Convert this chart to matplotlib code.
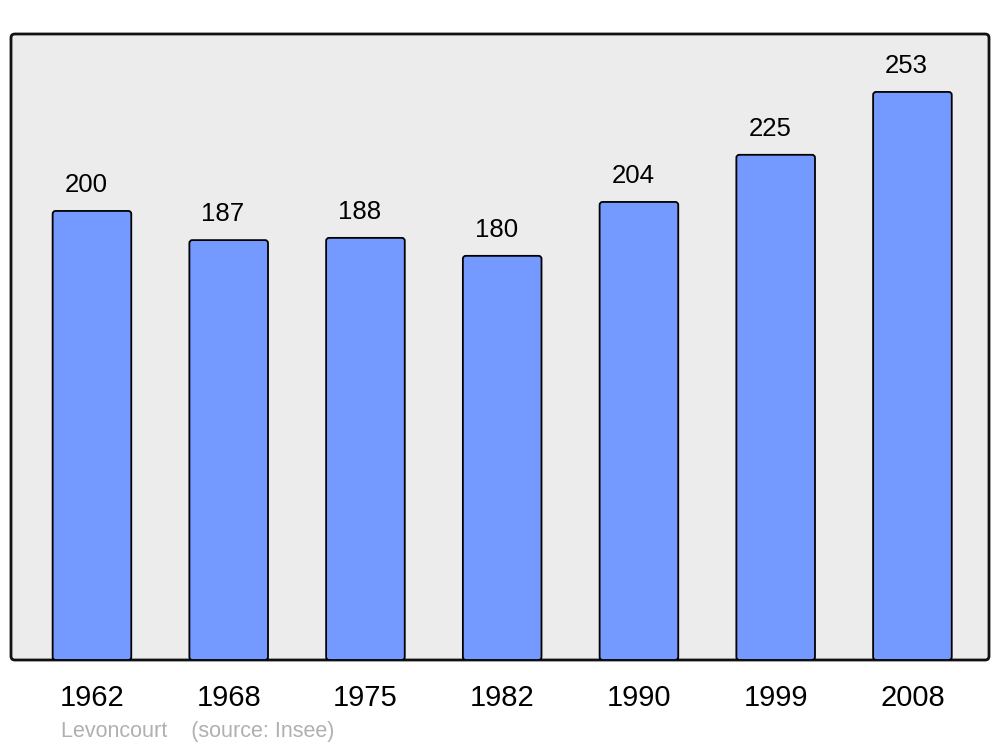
import matplotlib
matplotlib.use("Agg")
import matplotlib.pyplot as plt
from matplotlib.patches import FancyBboxPatch

years = ["1962", "1968", "1975", "1982", "1990", "1999", "2008"]
population = [200, 187, 188, 180, 204, 225, 253]
town = "Levoncourt"
source = "(source: Insee)"

plt.rcParams['font.family'] = ['Liberation Sans', 'DejaVu Sans']

W, H = 1000, 747
fig = plt.figure(figsize=(W / 100, H / 100), dpi=100)
axw, axh = (989 - 11), (660 - 34)
ax = fig.add_axes([11 / W, 1 - 660 / H, axw / W, axh / H])
ax.patch.set_visible(False)
for s in ax.spines.values():
    s.set_visible(False)

# rounded frame
frame = FancyBboxPatch((0, 0), 1, 1, boxstyle="round,pad=0,rounding_size=0.004",
                       mutation_aspect=axw / axh, transform=ax.transAxes,
                       facecolor='#ececec', edgecolor='#111111', linewidth=2,
                       clip_on=False, zorder=0)
ax.add_patch(frame)

ax.set_xlim(-0.592, 6.56)
ax.set_ylim(0, 278.8)

x = list(range(len(years)))
bars = ax.bar(x, population, width=0.575, color='#7499ff', edgecolor='black',
              linewidth=1.3, zorder=2)
# px per data unit
px_x = axw / (6.56 + 0.592)
px_y = axh / 278.8
for b in bars:
    b.set_visible(False)
    fb = FancyBboxPatch((b.get_x(), b.get_y()), b.get_width(), b.get_height(),
                        boxstyle="round,pad=0,rounding_size=%f" % (3 / px_x),
                        mutation_aspect=px_x / px_y,
                        facecolor='#7499ff', edgecolor='black', linewidth=1.3,
                        zorder=2)
    ax.add_patch(fb)

for xi, v in zip(x, population):
    ax.annotate(str(v), (xi, v), xytext=(-4.3, 18.8), textcoords='offset points',
                ha='center', va='center', fontsize=18.5)

ax.set_yticks([])
ax.set_xticks(x)
ax.set_xticklabels(years, fontsize=21)
ax.tick_params(axis='x', length=0, pad=17)

fig.text(61 / W, 1 - 731.5 / H, town + "    " + source, color='#b0b0b0',
         fontsize=15.5, va='center', ha='left')

fig.savefig("out.png", dpi=100)
